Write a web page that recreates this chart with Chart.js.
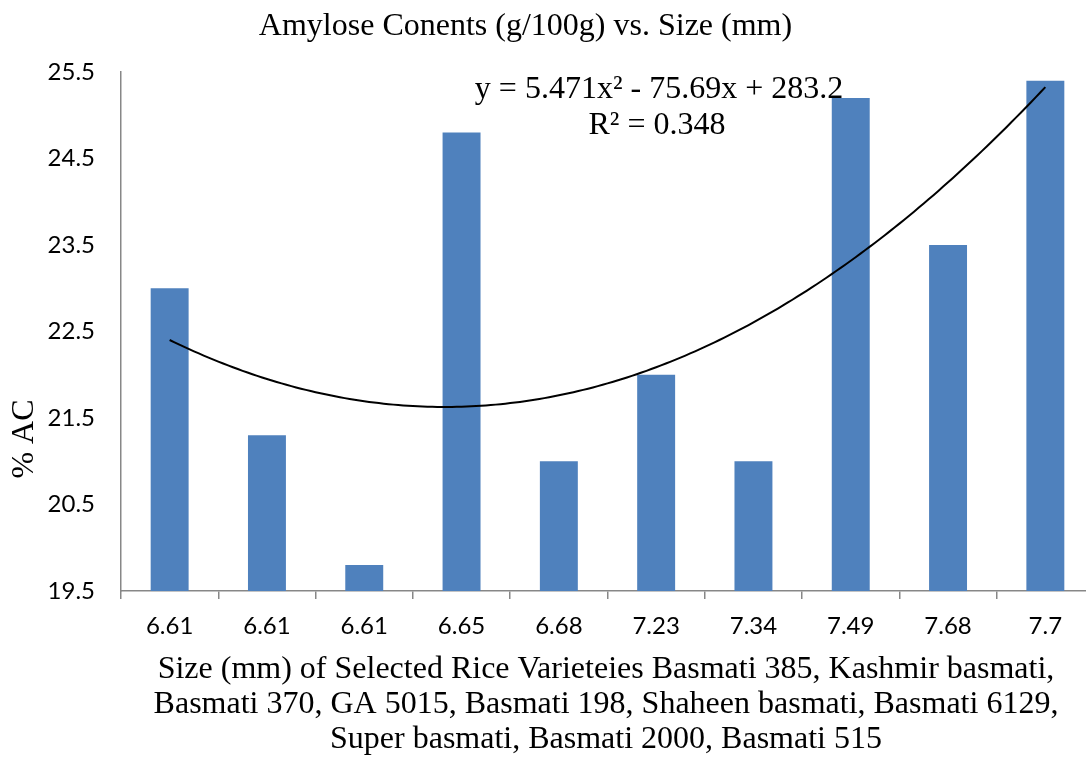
<!DOCTYPE html>
<html><head><meta charset="utf-8">
<script src="https://cdn.jsdelivr.net/npm/chart.js@4"></script>
<style>
html,body{margin:0;padding:0;overflow:hidden;background:#fff;width:1086px;height:757px}
#wrap{position:absolute;left:0;top:0;width:1120px;height:757px}
</style>
</head><body><div id="wrap"><canvas id="c" width="1120" height="757"></canvas></div>
<script>
// ---- data ----
const categories = ['6.61','6.61','6.61','6.65','6.68','7.23','7.34','7.49','7.68','7.7'];
const amyloseValues = [23.0, 21.3, 19.8, 24.8, 21.0, 22.0, 21.0, 25.2, 23.5, 25.4];
const yTicks = [19.5, 20.5, 21.5, 22.5, 23.5, 24.5, 25.5];
const chartTitle = 'Amylose Conents (g/100g) vs. Size (mm)';
const yTitle = '% AC';
const xTitleLines = [
  'Size (mm) of Selected Rice Varieteies Basmati 385, Kashmir basmati,',
  'Basmati 370, GA 5015, Basmati 198, Shaheen basmati, Basmati 6129,',
  'Super basmati, Basmati 2000, Basmati 515'
];
const trendEquation = 'y = 5.471x\u00B2 - 75.69x + 283.2';
const trendR2 = 'R\u00B2 = 0.348';

// ---- polynomial (order 2) least-squares trendline from the bar values, x = 1..n ----
function quadFit(ys){
  const S = [0,0,0,0,0], T = [0,0,0];
  ys.forEach((y,i)=>{ const x=i+1; for(let k=0;k<5;k++) S[k]+=Math.pow(x,k); for(let k=0;k<3;k++) T[k]+=y*Math.pow(x,k); });
  const A = [[S[0],S[1],S[2],T[0]],[S[1],S[2],S[3],T[1]],[S[2],S[3],S[4],T[2]]];
  for(let c=0;c<3;c++){
    for(let r=c+1;r<3;r++){ const f=A[r][c]/A[c][c]; for(let k=c;k<4;k++) A[r][k]-=f*A[c][k]; }
  }
  const p=[0,0,0];
  for(let r=2;r>=0;r--){ let s=A[r][3]; for(let k=r+1;k<3;k++) s-=A[r][k]*p[k]; p[r]=s/A[r][r]; }
  return p;
}
const coef = quadFit(amyloseValues);
const trendPoints = [];
for(let i=0;i<=(amyloseValues.length-1)*20;i++){
  const x = 1 + i/20;
  trendPoints.push({x, y: coef[0] + coef[1]*x + coef[2]*x*x});
}

const serif = '"Liberation Serif", "Times New Roman", serif';
const textPlugin = {
  id:'texts',
  afterDraw(chart){
    const ctx = chart.ctx;
    ctx.save();
    ctx.fillStyle = '#000';
    ctx.font = '32px ' + serif;
    ctx.textAlign = 'center';
    ctx.textBaseline = 'alphabetic';
    ctx.fillText(chartTitle, 525.5, 35);
    ctx.fillText(trendEquation, 659, 98);
    ctx.fillText(trendR2, 657, 134);
    const bl = [678, 713, 748];
    xTitleLines.forEach((t,i)=>ctx.fillText(t, 606, bl[i]));
    ctx.translate(33, 439);
    ctx.rotate(-Math.PI/2);
    ctx.fillText(yTitle, 0, 0);
    ctx.restore();
  }
};

const axisGray = '#878787';
new Chart(document.getElementById('c'), {
  type:'bar',
  data:{
    labels: categories,
    datasets:[
      { type:'line', data: trendPoints, xAxisID:'xt', yAxisID:'y', borderColor:'#000', borderWidth:2,
        pointRadius:0, fill:false, tension:0, order:0 },
      { type:'bar', data: amyloseValues, xAxisID:'x', yAxisID:'y', backgroundColor:'#4F81BD',
        borderWidth:0, barPercentage:0.39, categoryPercentage:1, grouped:false, order:1 }
    ]
  },
  options:{
    responsive:false, animation:false, devicePixelRatio:1,
    layout:{padding:{top:72, right:26, left:0, bottom:0}},
    plugins:{legend:{display:false}, tooltip:{enabled:false}, title:{display:false}},
    scales:{
      x:{ type:'category', offset:true, position:'bottom',
        ticks:{font:{family:'Lato', size:24}, color:'#000', padding:13, maxRotation:0, autoSkip:false},
        grid:{display:true, drawOnChartArea:false, drawTicks:true, tickLength:8, color:axisGray, lineWidth:1.5, offset:true},
        border:{display:true, color:axisGray, width:1.5},
        afterFit(s){ s.height = 166; } },
      xt:{ type:'linear', display:false, offset:false, min:0.5, max:categories.length+0.5,
        grid:{offset:false} },
      y:{ min:yTicks[0], max:yTicks[yTicks.length-1], position:'left',
        afterBuildTicks(s){ s.ticks = yTicks.map(v=>({value:v})); },
        ticks:{font:{family:'Lato', size:24}, color:'#000', padding:26, callback:v=>Number(v).toFixed(1)},
        grid:{display:false, drawTicks:false},
        border:{display:true, color:axisGray, width:1.5},
        afterFit(s){ s.width = 121; } }
    }
  },
  plugins:[textPlugin]
});
</script>
</body></html>
